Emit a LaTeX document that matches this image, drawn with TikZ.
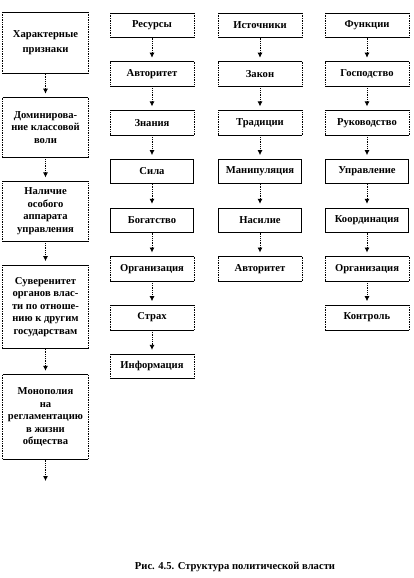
\documentclass[tikz,border=0pt]{standalone}
\usepackage{fontspec}
\setmainfont{Liberation Serif}
\usetikzlibrary{arrows.meta,positioning}

\begin{document}
\begin{tikzpicture}[x=1pt, y=1pt, font=\fontsize{10.6}{12.5}\selectfont\bfseries,
  node distance=24pt,
  box/.style={draw, line width=0.7pt, align=center, inner sep=2pt,
    minimum width=83pt, minimum height=24pt},
  wide/.style={minimum width=85pt},
  rim/.style={line width=0.7pt},
  dbox/.style={box, draw=none, append after command={
      (\tikzlastnode.north west) edge[rim] (\tikzlastnode.north east)
      (\tikzlastnode.south west) edge[rim] (\tikzlastnode.south east)
      (\tikzlastnode.north west) edge[rim, densely dotted] (\tikzlastnode.south west)
      (\tikzlastnode.north east) edge[rim, densely dotted] (\tikzlastnode.south east)}},
  flow/.style={-{Latex[length=5pt,width=5pt]}, densely dotted, line width=0.8pt, shorten >=4pt}]
  \useasboundingbox (0,0) rectangle (414,-578);

  % features of the state
  \node[dbox, wide, minimum height=61pt, anchor=north] (traits) at (45.5,-12) {Характерные\\[2.5pt]признаки};
  \node[dbox, wide, minimum height=59pt, below=of traits] (will) {Доминирова-\\ние классовой\\воли};
  \node[dbox, wide, minimum height=59pt, below=of will] (apparatus) {Наличие\\особого\\аппарата\\управления};
  \node[dbox, wide, minimum height=83pt, below=of apparatus] (sovereignty)
    {Суверенитет\\органов влас-\\ти по отноше-\\нию к другим\\государствам};
  \node[dbox, wide, minimum height=84pt, below=26pt of sovereignty] (monopoly)
    {Монополия\\на\\регламентацию\\в жизни\\общества};
  \coordinate (tail) at (45.5,-481);

  % resources
  \node[dbox, anchor=north] (resources) at (152,-13) {Ресурсы};
  \node[dbox, below=of resources] (authority) {Авторитет};
  \node[dbox, below=of authority] (knowledge) {Знания};
  \node[box, below=of knowledge] (force) {Сила};
  \node[box, below=of force] (wealth) {Богатство};
  \node[dbox, below=of wealth] (organization) {Организация};
  \node[dbox, below=of organization] (fear) {Страх};
  \node[dbox, below=of fear] (information) {Информация};

  % sources
  \node[dbox, anchor=north] (sources) at (260,-13) {Источники};
  \node[dbox, below=of sources] (law) {Закон};
  \node[dbox, below=of law] (tradition) {Традиции};
  \node[box, below=of tradition] (manipulation) {Манипуляция};
  \node[box, below=of manipulation] (violence) {Насилие};
  \node[dbox, below=of violence] (prestige) {Авторитет};

  % functions
  \node[dbox, anchor=north] (functions) at (367,-13) {Функции};
  \node[dbox, below=of functions] (dominance) {Господство};
  \node[dbox, below=of dominance] (leadership) {Руководство};
  \node[box, below=of leadership] (management) {Управление};
  \node[box, below=of management] (coordination) {Координация};
  \node[dbox, below=of coordination] (order) {Организация};
  \node[dbox, below=of order] (control) {Контроль};

  \path (traits) edge[flow] (will) (will) edge[flow] (apparatus)
    (apparatus) edge[flow] (sovereignty) (sovereignty) edge[flow] (monopoly)
    (monopoly) edge[flow, shorten >=0pt] (tail);
  \path (resources) edge[flow] (authority) (authority) edge[flow] (knowledge)
    (knowledge) edge[flow] (force) (force) edge[flow] (wealth)
    (wealth) edge[flow] (organization) (organization) edge[flow] (fear)
    (fear) edge[flow] (information);
  \path (sources) edge[flow] (law) (law) edge[flow] (tradition)
    (tradition) edge[flow] (manipulation) (manipulation) edge[flow] (violence)
    (violence) edge[flow] (prestige);
  \path (functions) edge[flow] (dominance) (dominance) edge[flow] (leadership)
    (leadership) edge[flow] (management) (management) edge[flow] (coordination)
    (coordination) edge[flow] (order) (order) edge[flow] (control);

  \node (caption) at (235,-567) {Рис. 4.5. Структура политической власти};
\end{tikzpicture}
\end{document}
